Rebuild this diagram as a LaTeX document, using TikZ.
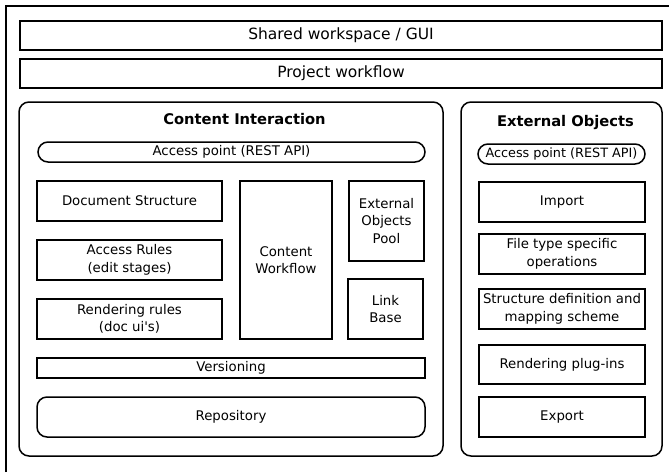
\documentclass[tikz,border=0pt]{standalone}
\usepackage{fontspec}
\setmainfont{DejaVu Sans}
\begin{document}
\begin{tikzpicture}[x=1pt,y=-1pt,
  box/.style={draw, line width=1.5pt, inner sep=0pt, align=center,
    font=\fontsize{13.3}{17.4}\selectfont},
  wide/.style={box, font=\fontsize{15.5}{19}\selectfont},
  group/.style={draw, line width=1.5pt, inner sep=0pt, rounded corners=10pt},
  pill/.style={box, rounded corners=10pt},
  title/.style={inner sep=0pt, font=\bfseries\fontsize{14.7}{18}\selectfont}]
\useasboundingbox (0,0) rectangle (669,472);
% open frame on the top and left
\draw[line width=1.5pt] (6,472) -- (6,6) -- (669,6);

\node[wide, minimum width=642pt, minimum height=29pt] (gui) at (341,35.5) {Shared workspace / GUI};
\node[wide, minimum width=642pt, minimum height=29pt] (pwf) at (341,73.5) {Project workflow};

% Content Interaction group
\node[group, minimum width=424pt, minimum height=354pt] (ci) at (231,279) {};
\node[title] (citl) at (244.5,119) {Content Interaction};
\node[pill, minimum width=387pt, minimum height=20pt] (ap1) at (231.5,152) {Access point (REST API)};
\node[box, minimum width=185pt, minimum height=40pt] (ds) at (129.5,201) {Document Structure};
\node[box, minimum width=185pt, minimum height=40pt] (ar) at (129.5,260) {Access Rules\\(edit stages)};
\node[box, minimum width=185pt, minimum height=40pt] (rr) at (129.5,319) {Rendering rules\\(doc ui\textquotesingle s)};
\node[box, minimum width=92pt, minimum height=158pt] (cw) at (286,260) {Content\\Workflow};
\node[box, minimum width=75pt, minimum height=80pt] (eop) at (386.5,221) {External\\Objects\\Pool};
\node[box, minimum width=75pt, minimum height=60pt] (lb) at (385.5,309) {Link\\Base};
\node[box, minimum width=388pt, minimum height=20pt] (ver) at (231,368) {Versioning};
\node[pill, minimum width=388pt, minimum height=40pt] (rep) at (231,417) {Repository};

% External Objects group
\node[group, minimum width=201pt, minimum height=354pt] (eo) at (561.5,279) {};
\node[title] (eotl) at (565.5,122) {External Objects};
\node[pill, minimum width=167pt, minimum height=20pt, font=\fontsize{12.8}{16}\selectfont] (ap2) at (561.5,154) {Access point (REST API)};
\node[box, minimum width=166pt, minimum height=40pt] (imp) at (562,202) {Import};
\node[box, minimum width=166pt, minimum height=40pt] (ft) at (562,254) {File type specific\\operations};
\node[box, minimum width=166pt, minimum height=40pt] (sd) at (562,309) {Structure definition and\\mapping scheme};
\node[box, minimum width=166pt, minimum height=39pt] (rp) at (562,364.5) {Rendering plug-ins};
\node[box, minimum width=166pt, minimum height=40pt] (ex) at (562,417) {Export};
\end{tikzpicture}
\end{document}
